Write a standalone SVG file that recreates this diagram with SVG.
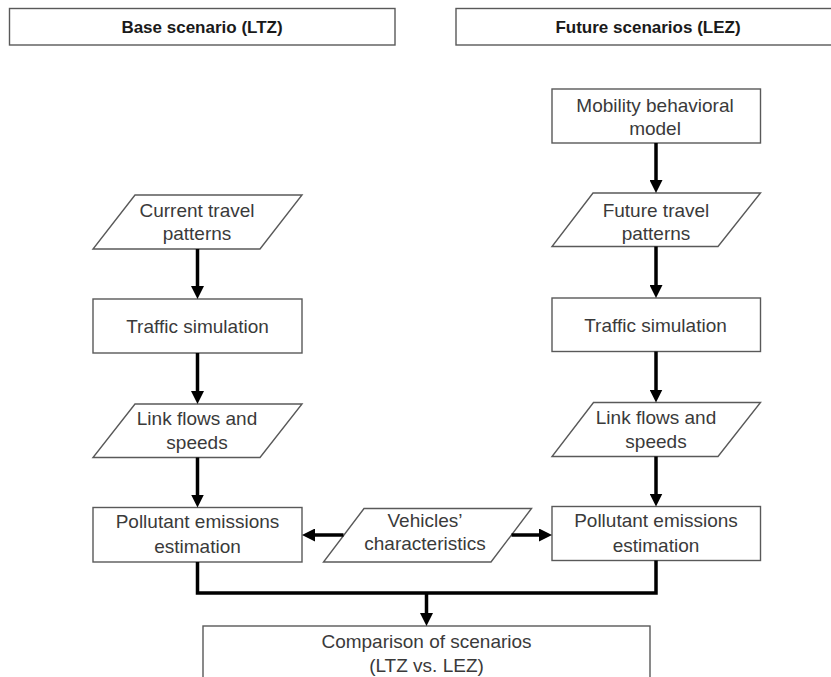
<svg xmlns="http://www.w3.org/2000/svg" width="831" height="677" viewBox="0 0 831 677">
<style>
.box{fill:#fff;stroke:#595959;stroke-width:1.4}
.t{font-family:"Liberation Sans",Arial,sans-serif;font-size:19px;fill:#3a3a3a;text-anchor:middle}
.h{font-family:"Liberation Sans",Arial,sans-serif;font-size:17px;font-weight:bold;fill:#1a1a1a;text-anchor:middle}
.c{fill:none;stroke:#000;stroke-width:3.5}
</style>
<defs>
<marker id="ah" markerUnits="userSpaceOnUse" markerWidth="14" markerHeight="13" refX="5" refY="6.5" orient="auto">
<path d="M0,0 L13,6.5 L0,13 z" fill="#000"/>
</marker>
</defs>
<rect width="831" height="677" fill="#fff"/>
<g id="hdr-base"><rect class="box" x="9.5" y="8.5" width="385.5" height="36.5"/><text class="h" x="202" y="33">Base scenario (LTZ)</text></g>
<g id="hdr-future"><rect class="box" x="456" y="8.5" width="385" height="36.5"/><text class="h" x="648" y="33">Future scenarios (LEZ)</text></g>
<g id="mobility"><rect class="box" x="552" y="89" width="208.5" height="54"/><text class="t" x="655" y="112">Mobility behavioral</text><text class="t" x="655" y="135">model</text></g>
<g id="current-travel"><polygon class="box" points="135,195 302,195 260,249 93,249"/><text class="t" x="197" y="217">Current travel</text><text class="t" x="197" y="240">patterns</text></g>
<g id="future-travel"><polygon class="box" points="593,193 760.5,193 718,246.5 552,246.5"/><text class="t" x="656" y="217">Future travel</text><text class="t" x="656" y="240">patterns</text></g>
<g id="traffic-left"><rect class="box" x="93" y="299" width="209" height="54"/><text class="t" x="197.5" y="333">Traffic simulation</text></g>
<g id="traffic-right"><rect class="box" x="552" y="298" width="208.5" height="53.5"/><text class="t" x="655.5" y="332">Traffic simulation</text></g>
<g id="link-left"><polygon class="box" points="135,404 302,404 260,457.5 93,457.5"/><text class="t" x="197" y="425">Link flows and</text><text class="t" x="197" y="449">speeds</text></g>
<g id="link-right"><polygon class="box" points="593.5,402.5 760.5,402.5 718,456.5 552,456.5"/><text class="t" x="656" y="424">Link flows and</text><text class="t" x="656" y="448">speeds</text></g>
<g id="pollutant-left"><rect class="box" x="93" y="507.5" width="209" height="54.5"/><text class="t" x="197.5" y="528">Pollutant emissions</text><text class="t" x="197.5" y="553">estimation</text></g>
<g id="pollutant-right"><rect class="box" x="552" y="506.5" width="208.5" height="54"/><text class="t" x="656" y="527">Pollutant emissions</text><text class="t" x="656" y="552">estimation</text></g>
<g id="vehicles"><polygon class="box" points="364,508.5 531.5,508.5 491,562 323.5,562"/><text class="t" x="425" y="527">Vehicles’</text><text class="t" x="425" y="550">characteristics</text></g>
<g id="comparison"><rect class="box" x="203" y="626" width="447" height="70"/><text class="t" x="426.5" y="648">Comparison of scenarios</text><text class="t" x="426.5" y="672">(LTZ vs. LEZ)</text></g>
<g id="connectors">
<line class="c" x1="656" y1="143" x2="656" y2="185" marker-end="url(#ah)"/>
<line class="c" x1="197.5" y1="249" x2="197.5" y2="291" marker-end="url(#ah)"/>
<line class="c" x1="656" y1="246.5" x2="656" y2="290" marker-end="url(#ah)"/>
<line class="c" x1="197.5" y1="353" x2="197.5" y2="396" marker-end="url(#ah)"/>
<line class="c" x1="656" y1="351.5" x2="656" y2="394.5" marker-end="url(#ah)"/>
<line class="c" x1="197.5" y1="457.5" x2="197.5" y2="499.5" marker-end="url(#ah)"/>
<line class="c" x1="656" y1="456.5" x2="656" y2="498.5" marker-end="url(#ah)"/>
<line class="c" x1="343.5" y1="535" x2="310" y2="535" marker-end="url(#ah)"/>
<line class="c" x1="511.5" y1="535" x2="544" y2="535" marker-end="url(#ah)"/>
<polyline class="c" points="197.5,562 197.5,593 656,593 656,560.5"/>
<line class="c" x1="426.5" y1="593" x2="426.5" y2="618" marker-end="url(#ah)"/>
</g>
</svg>
